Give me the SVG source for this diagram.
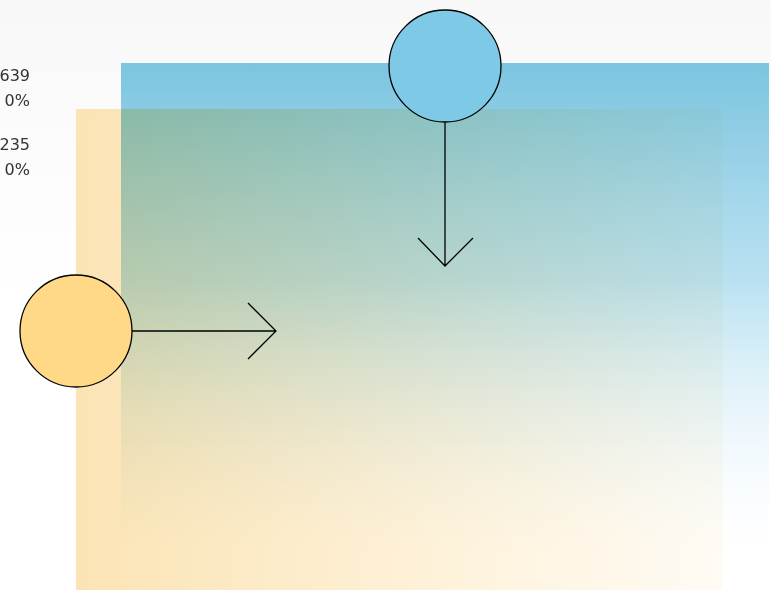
<svg xmlns="http://www.w3.org/2000/svg" width="771" height="590" viewBox="0 0 771 590">
  <defs>
    <linearGradient id="bg" x1="0" y1="0" x2="0" y2="1">
      <stop offset="0" stop-color="#f8f8f8"/>
      <stop offset="0.5" stop-color="#ffffff"/>
    </linearGradient>
    <linearGradient id="yellowFade" x1="0" y1="0" x2="1" y2="0">
      <stop offset="0" stop-color="#fbe2b0" stop-opacity="0.95"/>
      <stop offset="1" stop-color="#fde6b8" stop-opacity="0.15"/>
    </linearGradient>
    <linearGradient id="blueFade" x1="0" y1="0" x2="0" y2="1">
      <stop offset="0" stop-color="#7ec9e5" stop-opacity="1"/>
      <stop offset="0.45" stop-color="#9fd6ec" stop-opacity="0.72"/>
      <stop offset="1" stop-color="#e8f5fc" stop-opacity="0"/>
    </linearGradient>
    <style>
      .lbl { font-family: "DejaVu Sans", "Liberation Sans", sans-serif; font-size: 16px; fill: #333333; text-anchor: end; }
      .node { stroke: #000000; stroke-width: 1.3; }
      .link { fill: none; stroke: #000000; stroke-width: 1.3; }
      .blend { mix-blend-mode: multiply; }
    </style>
  </defs>

  <rect x="0" y="0" width="771" height="590" fill="url(#bg)"/>

  <!-- value labels -->
  <g id="labels">
    <text class="lbl" x="30" y="81">639</text>
    <text class="lbl" x="30" y="106">0%</text>
    <text class="lbl" x="30" y="150">235</text>
    <text class="lbl" x="30" y="175">0%</text>
  </g>

  <!-- areas -->
  <rect id="area-yellow" x="76" y="109" width="647" height="481" fill="url(#yellowFade)"/>
  <rect id="area-blue" class="blend" x="121" y="63" width="648" height="488" fill="url(#blueFade)"/>

  <!-- connectors -->
  <g id="connectors">
    <path class="link" d="M445 122 V266 M418 238 L445 266 L473 238"/>
    <path class="link" d="M132 331 H276 M248 303 L276 331 L248 359"/>
  </g>

  <g id="node-blue">
    <circle class="node" cx="445" cy="66" r="56" fill="#7ecae6"/>
  </g>
  <g id="node-yellow">
    <circle class="node" cx="76" cy="331" r="56" fill="#ffd888"/>
  </g>
</svg>
